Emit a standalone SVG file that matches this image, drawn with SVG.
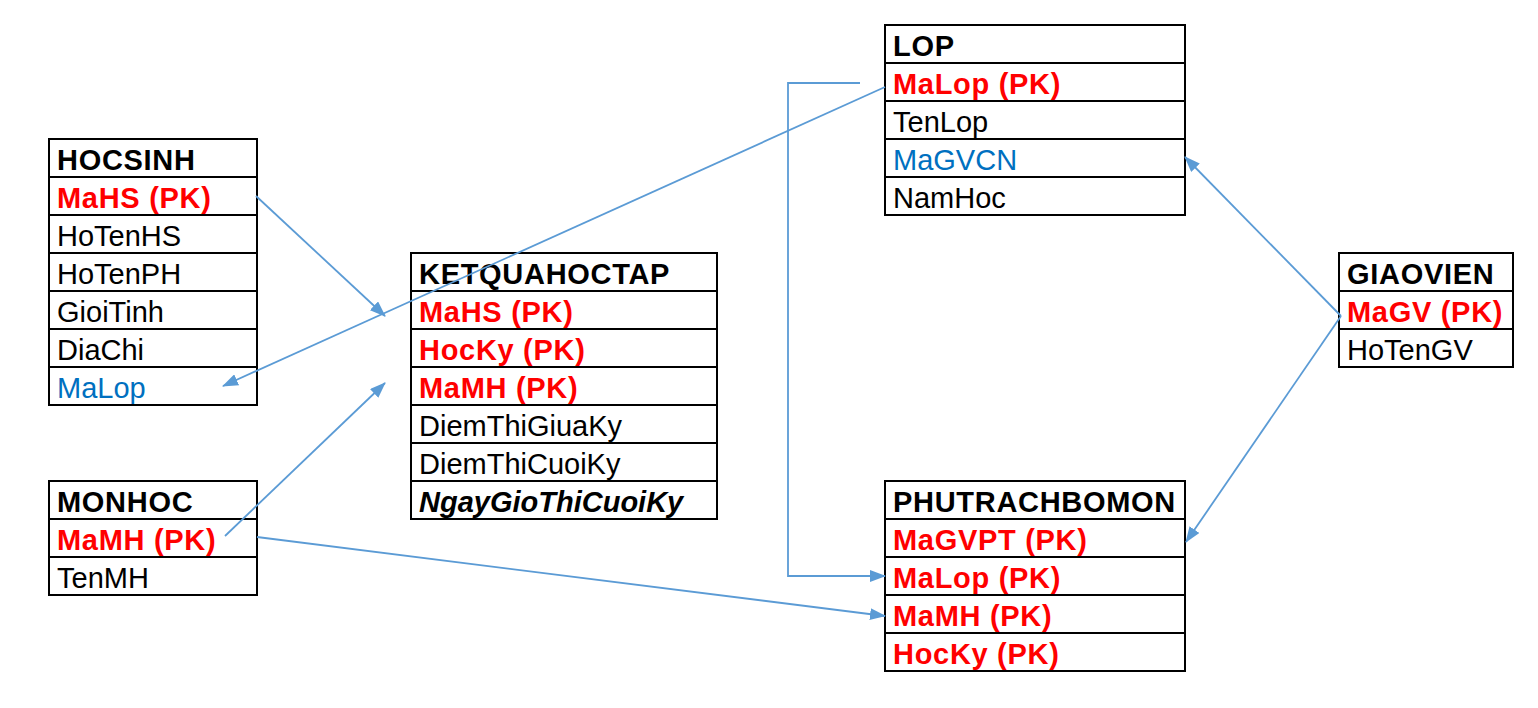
<svg xmlns="http://www.w3.org/2000/svg" width="1538" height="708" viewBox="0 0 1538 708">
<style>
.box{fill:#fff;stroke:#000;stroke-width:2}
.sep{stroke:#000;stroke-width:2}
text{font-family:"Liberation Sans",Arial,Helvetica,sans-serif;font-size:29px;fill:#000}
.h{font-weight:bold;letter-spacing:0.7px}
.pk{font-weight:bold;letter-spacing:0.7px;fill:#FF0000}
.fk{fill:#0070C0}
.it{font-weight:bold;font-style:italic}
.con{fill:none;stroke:#5B9BD5;stroke-width:1.8}
</style>
<defs>
<marker id="arr" markerUnits="userSpaceOnUse" markerWidth="16" markerHeight="12" refX="15" refY="6" orient="auto">
<path d="M0,0 L16,6 L0,12 Z" fill="#5B9BD5"/>
</marker>
</defs>
<rect width="1538" height="708" fill="#fff"/>

<g id="HOCSINH">
<rect class="box" x="49" y="139" width="208" height="266"/>
<path class="sep" d="M49,177H257M49,215H257M49,253H257M49,291H257M49,329H257M49,367H257"/>
<text class="h" x="57" y="170">HOCSINH</text>
<text class="pk" x="57" y="208">MaHS (PK)</text>
<text x="57" y="246">HoTenHS</text>
<text x="57" y="284">HoTenPH</text>
<text x="57" y="322">GioiTinh</text>
<text x="57" y="360">DiaChi</text>
<text class="fk" x="57" y="398">MaLop</text>
</g>

<g id="KETQUAHOCTAP">
<rect class="box" x="411" y="253" width="306" height="266"/>
<path class="sep" d="M411,291H717M411,329H717M411,367H717M411,405H717M411,443H717M411,481H717"/>
<text class="h" x="419" y="284">KETQUAHOCTAP</text>
<text class="pk" x="419" y="322">MaHS (PK)</text>
<text class="pk" x="419" y="360">HocKy (PK)</text>
<text class="pk" x="419" y="398">MaMH (PK)</text>
<text x="419" y="436">DiemThiGiuaKy</text>
<text x="419" y="474">DiemThiCuoiKy</text>
<text class="it" x="419" y="512">NgayGioThiCuoiKy</text>
</g>

<g id="MONHOC">
<rect class="box" x="49" y="481" width="208" height="114"/>
<path class="sep" d="M49,519H257M49,557H257"/>
<text class="h" x="57" y="512">MONHOC</text>
<text class="pk" x="57" y="550">MaMH (PK)</text>
<text x="57" y="588">TenMH</text>
</g>

<g id="LOP">
<rect class="box" x="885" y="25" width="300" height="190"/>
<path class="sep" d="M885,63H1185M885,101H1185M885,139H1185M885,177H1185"/>
<text class="h" x="893" y="56">LOP</text>
<text class="pk" x="893" y="94">MaLop (PK)</text>
<text x="893" y="132">TenLop</text>
<text class="fk" x="893" y="170">MaGVCN</text>
<text x="893" y="208">NamHoc</text>
</g>

<g id="PHUTRACHBOMON">
<rect class="box" x="885" y="481" width="300" height="190"/>
<path class="sep" d="M885,519H1185M885,557H1185M885,595H1185M885,633H1185"/>
<text class="h" x="893" y="512">PHUTRACHBOMON</text>
<text class="pk" x="893" y="550">MaGVPT (PK)</text>
<text class="pk" x="893" y="588">MaLop (PK)</text>
<text class="pk" x="893" y="626">MaMH (PK)</text>
<text class="pk" x="893" y="664">HocKy (PK)</text>
</g>

<g id="GIAOVIEN">
<rect class="box" x="1339" y="253" width="174" height="114"/>
<path class="sep" d="M1339,291H1513M1339,329H1513"/>
<text class="h" x="1347" y="284">GIAOVIEN</text>
<text class="pk" x="1347" y="322">MaGV (PK)</text>
<text x="1347" y="360">HoTenGV</text>
</g>

<g id="connectors">
<line class="con" x1="256" y1="196" x2="385" y2="316" marker-end="url(#arr)"/>
<line class="con" x1="885" y1="87" x2="223" y2="386" marker-end="url(#arr)"/>
<line class="con" x1="225" y1="536" x2="385" y2="383" marker-end="url(#arr)"/>
<line class="con" x1="257" y1="537" x2="885" y2="616" marker-end="url(#arr)"/>
<polyline class="con" points="860,83 788,83 788,576 885,576" marker-end="url(#arr)"/>
<line class="con" x1="1341" y1="316" x2="1185" y2="157" marker-end="url(#arr)"/>
<line class="con" x1="1341" y1="316" x2="1186" y2="542" marker-end="url(#arr)"/>
</g>
</svg>
